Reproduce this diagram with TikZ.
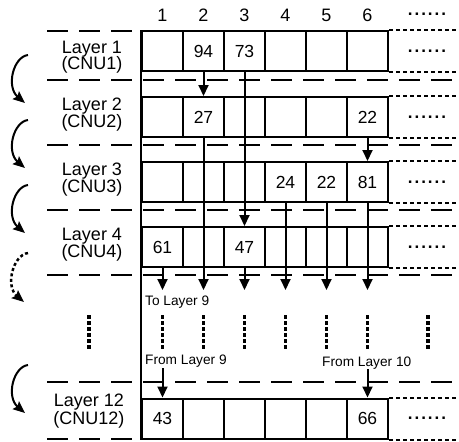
\documentclass[tikz,border=0pt]{standalone}
\usepackage{fontspec}
\setmainfont{Liberation Sans}
\usetikzlibrary{arrows.meta}
\newcommand\sixdots{\textbf{.\kern2pt.\kern2pt.\kern2pt.\kern2pt.\kern2pt.}}
\newcommand\cellrow[8]{%
  \node[cellbox] (c#1-1) at (162.5,#2) {#3};
  \node[cellbox] (c#1-2) at (203.5,#2) {#4};
  \node[cellbox] (c#1-3) at (244.5,#2) {#5};
  \node[cellbox] (c#1-4) at (285.5,#2) {#6};
  \node[cellbox] (c#1-5) at (326.5,#2) {#7};
  \node[cellbox] (c#1-6) at (367.5,#2) {#8};
  \node[dotnode] (d#1) at (427,#2) {\sixdots};
  \draw[dotline] (c#1-6.north east) -- ++(71,0);
  \draw[dotline] (c#1-6.south east) -- ++(71,0);
}
\begin{document}
\begin{tikzpicture}[x=1pt,y=-1pt,
  cellbox/.style={draw,line width=2pt,minimum width=41pt,minimum height=40pt,inner sep=0pt,font=\fontsize{17.5}{19}\selectfont},
  dotnode/.style={inner sep=0pt,font=\fontsize{17}{18}\selectfont},
  lbl/.style={font=\fontsize{18}{20}\selectfont,inner sep=0pt,anchor=base},
  small/.style={font=\fontsize{13.7}{15}\selectfont,inner sep=0pt,anchor=base west},
  dashline/.style={line width=2.5pt,dash pattern=on 21pt off 11pt},
  dotline/.style={line width=2pt,dash pattern=on 4pt off 3pt},
  vdots/.style={line width=3pt,dash pattern=on 3.5pt off 2.5pt},
  arr/.style={line width=2pt,-{Triangle[length=11pt,width=10pt]}},
  curv/.style={line width=2pt,-{Stealth[length=12pt,width=10pt,inset=2pt]}}
]
\useasboundingbox (0,0) rectangle (459,442);

% dashed separators
\draw[dashline] (47,31) -- (136,31);
\foreach \yy in {80,145,210,275,382} \draw[dashline] (47,\yy) -- (459,\yy);
\draw[dashline] (47,439) -- (136,439);

% cells
\cellrow{1}{51}{}{94}{73}{}{}{}
\cellrow{2}{117}{}{27}{}{}{}{22}
\cellrow{3}{182}{}{}{}{24}{22}{81}
\cellrow{4}{247}{61}{}{47}{}{}{}
\cellrow{12}{418.5}{43}{}{}{}{}{66}

% left continuous border
\draw[line width=2pt] (c1-1.north west) -- (c12-1.south west);

% column headers
\node[lbl] (h1) at (162.5,21) {1};
\node[lbl] (h2) at (203.5,21) {2};
\node[lbl] (h3) at (244.5,21) {3};
\node[lbl] (h4) at (285.5,21) {4};
\node[lbl] (h5) at (326.5,21) {5};
\node[lbl] (h6) at (367.5,21) {6};
\node[dotnode] (h7) at (427,14) {\sixdots};

% layer labels
\node[lbl] (L1a) at (92,53) {Layer 1};
\node[lbl] (L1b) at (92,69.5) {(CNU1)};
\node[lbl] (L2a) at (92,110) {Layer 2};
\node[lbl] (L2b) at (92,127) {(CNU2)};
\node[lbl] (L3a) at (92,175) {Layer 3};
\node[lbl] (L3b) at (92,192) {(CNU3)};
\node[lbl] (L4a) at (92,240) {Layer 4};
\node[lbl] (L4b) at (92,257.5) {(CNU4)};
\node[lbl] (L12a) at (89,406) {Layer 12};
\node[lbl] (L12b) at (89,424) {(CNU12)};

% arrows between layers
\draw[arr] (c1-2.south) -- (c2-2.north);
\draw[arr] (c1-3.south) -- (c4-3.north);
\draw[arr] (c2-6.south) -- (c3-6.north);

\coordinate (t1) at (162.5,290);
\coordinate (t2) at (203.5,290);
\coordinate (t3) at (244.5,290);
\coordinate (t4) at (285.5,290);
\coordinate (t5) at (326.5,290);
\coordinate (t6) at (367.5,290);
\draw[arr] (c4-1.south) -- (t1);
\draw[arr] (c2-2.south) -- (t2);
\draw[arr] (c4-3.south) -- (t3);
\draw[arr] (c3-4.south) -- (t4);
\draw[arr] (c3-5.south) -- (t5);
\draw[arr] (c3-6.south) -- (t6);

\coordinate (f1) at (162.5,368);
\coordinate (f6) at (367.5,369);
\draw[arr] (f1) -- (c12-1.north);
\draw[arr] (f6) -- (c12-6.north);

% small labels
\node[small] (to9) at (145,305) {To Layer 9};
\node[small] (from9) at (145,364) {From Layer 9};
\node[small] (from10) at (322,366) {From Layer 10};

% vertical dots
\draw[vdots,line width=4pt] (89,315) -- (89,350);
\foreach \xx in {162.5,203.5,244.5,285.5,326.5,367.5} \draw[vdots] (\xx,315) -- (\xx,350);
\draw[vdots,line width=3.5pt] (428,315) -- (428,350);

% curved arrows on the left
\coordinate (s1) at (28,55);  \coordinate (e1) at (25,103);
\coordinate (s2) at (28,120); \coordinate (e2) at (25,168);
\coordinate (s3) at (28,185); \coordinate (e3) at (25,233);
\coordinate (s4) at (28,253); \coordinate (e4) at (24,302);
\coordinate (s5) at (28,365); \coordinate (e5) at (25,413);
\draw[curv] (s1) .. controls +(-15,2) and +(-19,-16) .. (e1);
\draw[curv] (s2) .. controls +(-15,2) and +(-19,-16) .. (e2);
\draw[curv] (s3) .. controls +(-15,2) and +(-19,-16) .. (e3);
\draw[curv,line width=2.5pt,dash pattern=on 3pt off 2.5pt] (s4) .. controls +(-15,2) and +(-19,-16) .. (e4);
\draw[curv] (s5) .. controls +(-15,2) and +(-19,-16) .. (e5);
\end{tikzpicture}
\end{document}
